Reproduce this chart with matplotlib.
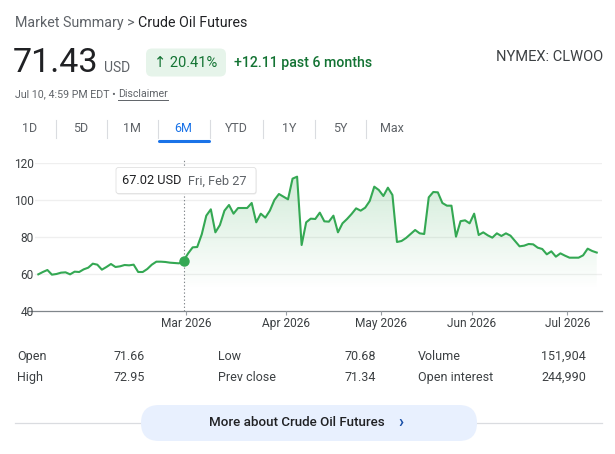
import numpy as np
import matplotlib
matplotlib.use("Agg")
import matplotlib.pyplot as plt
from matplotlib.patches import FancyBboxPatch

plt.rcParams['font.family'] = ['Roboto', 'DejaVu Sans']

# ---------------- data ----------------
prices = [
    59.66, 60.92, 62.0, 59.48, 59.84, 60.56, 60.74, 59.66, 61.1, 60.92,
    62.36, 63.26, 65.42, 64.88, 62.18, 63.62, 65.24, 63.62, 63.98, 64.70,
    64.52, 64.88, 60.92, 60.92, 62.54, 64.88, 66.5, 66.5, 66.33, 65.96,
    65.78, 65.6, 67.02,
    71.0, 74.25, 74.43, 81.28, 91.37, 94.8, 82.36, 86.32, 94.07, 97.14,
    92.45, 95.51, 95.51, 95.51, 98.22, 87.77, 92.45, 90.29, 94.07, 99.84,
    103.08, 101.64, 100.2, 111.37, 112.45, 75.51, 87.77, 89.75, 89.57, 93.0,
    88.31, 88.13, 91.37, 82.36, 87.23, 89.57, 92.27, 95.33, 94.07, 95.69,
    99.3, 107.04, 105.24, 102.0, 106.5, 102.54, 77.14, 77.68, 79.3, 81.46,
    83.62, 81.82, 81.46, 101.28, 104.16, 103.98, 98.22, 96.77, 96.77, 80.02,
    88.4,
    88.85, 87.23, 92.45, 80.92, 82.36, 80.74, 79.48, 81.82, 80.38, 81.82,
    80.56, 77.68, 74.8, 75.15, 76.05, 75.87, 74.07, 73.35, 70.47, 72.09,
    69.21, 71.0, 69.75, 68.66, 68.66, 68.66, 69.93, 73.53, 72.27, 71.43,
]
hover_idx = 32            # Fri, Feb 27
hover_label = "67.02 USD"
hover_date = "Fri, Feb 27"
month_start_idx = [33, 55, 76, 96, 117]
month_labels = ["Mar 2026", "Apr 2026", "May 2026", "Jun 2026", "Jul 2026"]
y_ticks = [40, 60, 80, 100, 120]

tabs = ["1D", "5D", "1M", "6M", "YTD", "1Y", "5Y", "Max"]
active_tab = "6M"

stat_labels_1 = ["Open", "Low", "Volume"]
stat_values_1 = ["71.66", "70.68", "151,904"]
stat_labels_2 = ["High", "Prev close", "Open interest"]
stat_values_2 = ["72.95", "71.34", "244,990"]

# ---------------- figure ----------------
W, H = 615, 454
fig = plt.figure(figsize=(W / 100, H / 100), dpi=100)
fig.patch.set_facecolor('white')

bg = fig.add_axes([0, 0, 1, 1], zorder=0)
bg.set_xlim(0, W)
bg.set_ylim(H, 0)
bg.axis('off')

GREEN = '#34a853'
DKGREEN = '#137333'
DARK = '#202124'
GRAY = '#5f6368'
BLUE = '#1a73e8'

# header
t = bg.text(15, 23, "Market Summary > ", color=GRAY, fontsize=10.3, va='center', ha='left')
fig.canvas.draw()
x_after = t.get_window_extent().x1 * W / fig.bbox.width
bg.text(x_after, 23, "Crude Oil Futures", color=DARK, fontsize=10.3, va='center', ha='left')

bg.text(13, 63, "71.43", color=DARK, fontsize=24.5, va='center', ha='left')
bg.text(104, 68, "USD", color=GRAY, fontsize=10, va='center', ha='left')
badge = FancyBboxPatch((146, 48.5), 80, 28, boxstyle="round,pad=0,rounding_size=6",
                       facecolor='#e6f4ea', edgecolor='none')
bg.add_patch(badge)
bg.text(186, 63, "↑ 20.41%", color=DKGREEN, fontsize=10.5, va='center', ha='center')
bg.text(233.5, 63, "+12.11 past 6 months", color=DKGREEN, fontsize=10.2, va='center',
        ha='left', fontweight='medium')
bg.text(603, 57, "NYMEX: CLWOO", color='#3c4043', fontsize=10.5, va='center', ha='right')

d1 = bg.text(15, 94, "Jul 10, 4:59 PM EDT • ", color=GRAY, fontsize=7.7, va='center', ha='left')
fig.canvas.draw()
xd = d1.get_window_extent().x1 * W / fig.bbox.width
d2 = bg.text(xd, 94, "Disclaimer", color=GRAY, fontsize=7.7, va='center', ha='left')
fig.canvas.draw()
e2 = d2.get_window_extent()
bg.plot([xd, e2.x1 * W / fig.bbox.width], [99.5, 99.5], color=GRAY, lw=0.7)

# tabs
tab_centers = [30, 81, 132, 183, 236, 289, 340, 392]
for i, (lab, cx) in enumerate(zip(tabs, tab_centers)):
    bg.text(cx, 128, lab, color=BLUE if lab == active_tab else GRAY, fontsize=9,
            va='center', ha='center')
    if i < len(tabs) - 1:
        sx = (cx + tab_centers[i + 1]) / 2
        bg.plot([sx, sx], [120, 138], color='#dadce0', lw=0.8)
ai = tabs.index(active_tab)
x0 = (tab_centers[ai - 1] + tab_centers[ai]) / 2
x1 = (tab_centers[ai] + tab_centers[ai + 1]) / 2
bg.plot([x0 + 1, x1 - 1], [140.5, 140.5], color=BLUE, lw=2.2, solid_capstyle='round')

# baseline
bg.plot([28, 602], [310.7, 310.7], color='#80868b', lw=0.9, zorder=1)

# ---------------- chart ----------------
ax = fig.add_axes([35 / W, 1 - 310.7 / H, 567 / W, 148 / H], zorder=2)
ax.patch.set_alpha(0)
x = np.arange(len(prices))
y = np.array(prices)
ax.set_xlim(-0.73, 124.16)
ax.set_ylim(40, 120)
for s in ax.spines.values():
    s.set_visible(False)

ax.set_yticks(y_ticks)
ax.set_yticklabels([str(v) for v in y_ticks])
for v in y_ticks[1:]:
    ax.axhline(v, color='#efefef', lw=0.9, zorder=0)
ax.tick_params(axis='y', length=0, pad=1, labelsize=8.6, labelcolor='#3c4043')
ax.set_xticks([m - 0.5 for m in month_start_idx])
ax.set_xticklabels(month_labels)
ax.tick_params(axis='x', length=3, width=0.8, color='#9aa0a6', pad=1.5,
               labelsize=8.6, labelcolor='#3c4043')

# gradient fill from hovered point to end
xs = x[hover_idx:]
ys = y[hover_idx:]
poly = ax.fill_between(xs, ys, 40, facecolor='none', edgecolor='none')
grad_y = np.linspace(40, 120, 256)
alpha = np.clip((grad_y - 52) / (118 - 52), 0, 1) * 0.24
rgba = np.zeros((256, 1, 4))
rgba[..., 0] = 0x34 / 255
rgba[..., 1] = 0xa8 / 255
rgba[..., 2] = 0x53 / 255
rgba[:, 0, 3] = alpha
im = ax.imshow(rgba, extent=[xs[0], xs[-1], 40, 120], origin='lower', aspect='auto',
               zorder=1, interpolation='bilinear')
im.set_clip_path(poly.get_paths()[0], transform=ax.transData)

ax.plot(x, y, color=GREEN, lw=1.5, zorder=3, solid_joinstyle='round')
ax.plot([hover_idx, hover_idx], [40, 121.5], color='#80868b', lw=0.8,
        linestyle=(0, (1.2, 2)), zorder=2, clip_on=False)
ax.plot(hover_idx, y[hover_idx], 'o', color=GREEN, ms=6.5, zorder=4)

# tooltip overlay
fg = fig.add_axes([0, 0, 1, 1], zorder=5)
fg.set_xlim(0, W)
fg.set_ylim(H, 0)
fg.axis('off')
fg.add_patch(FancyBboxPatch((116.5, 168.5), 140, 26, boxstyle="round,pad=0,rounding_size=2.5",
                            facecolor='#e8e8e8', edgecolor='none'))
fg.add_patch(FancyBboxPatch((116, 167.5), 140, 26, boxstyle="round,pad=0,rounding_size=2.5",
                            facecolor='white', edgecolor='#e0e0e0', lw=0.6))
fg.text(122.5, 181, hover_label, color=DARK, fontsize=9.2, va='center', ha='left')
fg.text(188, 181, hover_date, color=GRAY, fontsize=9.2, va='center', ha='left')

# ---------------- stats table ----------------
label_x = [17, 218, 418]
value_x = [145, 376, 586]
for row_y, labs, vals in [(356.5, stat_labels_1, stat_values_1), (377.5, stat_labels_2, stat_values_2)]:
    for lx, vx, lab, val in zip(label_x, value_x, labs, vals):
        bg.text(lx, row_y, lab, color='#3c4043', fontsize=9, va='center', ha='left')
        bg.text(vx, row_y, val, color='#3c4043', fontsize=9, va='center', ha='right')

# button
bg.plot([15, 602], [423, 423], color='#dadce0', lw=0.9, zorder=1)
bg.add_patch(FancyBboxPatch((141, 405), 336, 36, boxstyle="round,pad=0,rounding_size=18",
                            facecolor='#e8f0fe', edgecolor='none', zorder=2))
bg.text(296.5, 423, "More about Crude Oil Futures", color=DARK, fontsize=9.6,
        va='center', ha='center', fontweight='medium', zorder=3)
bg.text(401, 422.5, "›", color='#174ea6', fontsize=12, va='center', ha='center',
        fontweight='bold', zorder=3)

fig.savefig("out.png", dpi=100, facecolor='white')
